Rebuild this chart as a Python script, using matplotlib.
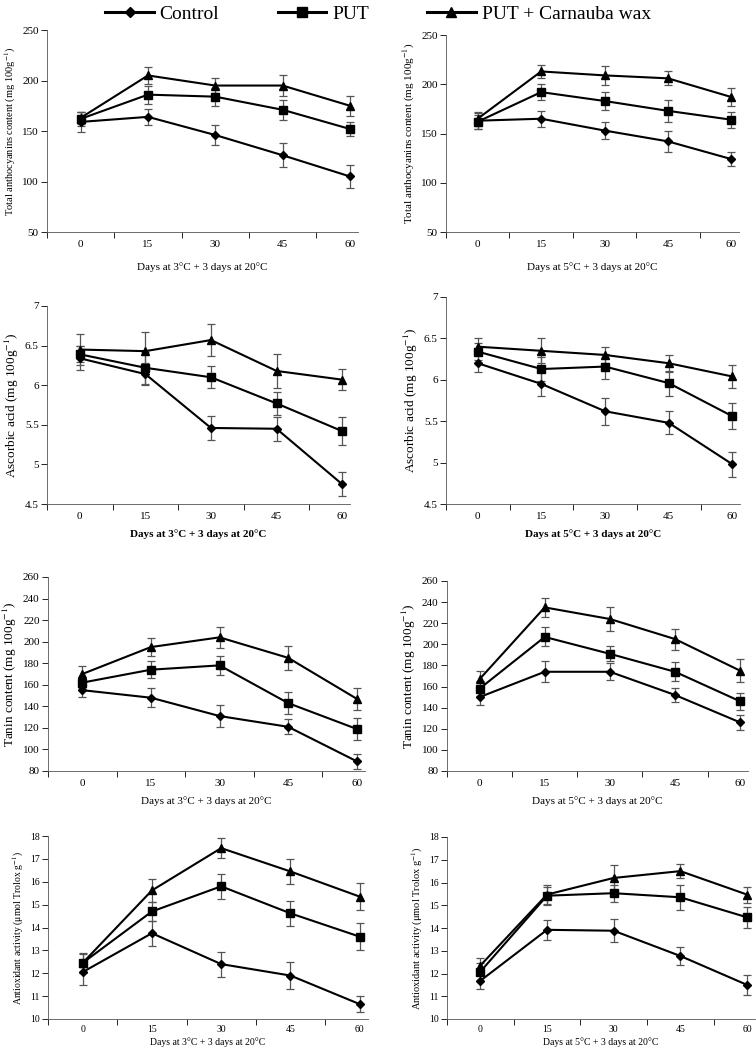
import numpy as np
import matplotlib
matplotlib.use("Agg")
import matplotlib.pyplot as plt
from matplotlib.ticker import FixedLocator, FuncFormatter

plt.rcParams['font.family'] = ['Liberation Serif', 'DejaVu Serif']
plt.rcParams['mathtext.fontset'] = 'stix'

days = ['0', '15', '30', '45', '60']
series_names = ['Control', 'PUT', 'PUT + Carnauba wax']

# total anthocyanins
anth_3 = [[159, 164, 146, 126, 105], [162, 186, 184, 171, 152], [163, 205, 195, 195, 175]]
anth_3_err = [[10, 8, 10, 12, 11], [7, 9, 9, 10, 7], [6, 8, 7, 10, 10]]
anth_5 = [[163, 165, 153, 142, 124], [162, 192, 183, 173, 164], [165, 213, 209, 206, 187]]
anth_5_err = [[8, 8, 9, 11, 7], [7, 8, 9, 11, 8], [7, 7, 10, 7, 9]]

# ascorbic acid
asc_3 = [[6.34, 6.14, 5.46, 5.45, 4.75], [6.39, 6.22, 6.10, 5.77, 5.42], [6.45, 6.43, 6.57, 6.18, 6.07]]
asc_3_err = [[0.15, 0.14, 0.15, 0.15, 0.15], [0.1, 0.2, 0.14, 0.14, 0.18], [0.2, 0.24, 0.2, 0.22, 0.13]]
asc_5 = [[6.20, 5.95, 5.62, 5.48, 4.98], [6.34, 6.13, 6.16, 5.96, 5.56], [6.40, 6.35, 6.30, 6.20, 6.04]]
asc_5_err = [[0.1, 0.15, 0.16, 0.14, 0.15], [0.1, 0.15, 0.15, 0.15, 0.16], [0.1, 0.15, 0.1, 0.1, 0.14]]

# tanin
tan_3 = [[155, 148, 131, 121, 89], [162, 174, 178, 143, 119], [170, 195, 204, 185, 147]]
tan_3_err = [[6, 9, 10, 7, 7], [5, 8, 9, 10, 10], [7, 8, 10, 11, 10]]
tan_5 = [[150, 174, 174, 152, 126], [158, 207, 191, 174, 146], [167, 235, 224, 205, 175]]
tan_5_err = [[7, 10, 8, 7, 7], [7, 9, 7, 9, 8], [8, 9, 11, 10, 11]]

# antioxidant activity
aox_3 = [[12.05, 13.75, 12.4, 11.9, 10.65], [12.45, 14.7, 15.8, 14.62, 13.6], [12.45, 15.62, 17.47, 16.45, 15.35]]
aox_3_err = [[0.55, 0.55, 0.55, 0.58, 0.35], [0.45, 0.42, 0.56, 0.55, 0.6], [0.4, 0.5, 0.45, 0.53, 0.6]]
aox_5 = [[11.68, 13.92, 13.88, 12.77, 11.5], [12.08, 15.42, 15.53, 15.35, 14.47], [12.35, 15.47, 16.2, 16.5, 15.47]]
aox_5_err = [[0.38, 0.45, 0.5, 0.4, 0.45], [0.4, 0.4, 0.38, 0.55, 0.45], [0.35, 0.4, 0.55, 0.3, 0.35]]

W, H = 756, 1050
fig = plt.figure(figsize=(W / 100, H / 100), dpi=100)

markers = ['D', 's', '^']
msizes = [4, 6, 5.5]


def px_axes(left, top, right, bottom):
    return fig.add_axes([left / W, 1 - bottom / H, (right - left) / W, (bottom - top) / H])


def fmt(v, pos):
    return ('%g' % v)


def panel(box, data, err, ylim, yticks, ylabel, xlabel, fs=8, xbold=False, ylfs=8,
          tpad=6, lpad=6):
    ax = px_axes(*box)
    x = np.arange(len(days))
    for i in range(3):
        ax.errorbar(x, data[i], yerr=err[i], fmt='none', ecolor='#555555',
                    elinewidth=0.9, capsize=3, capthick=0.9, zorder=2)
        ax.plot(x, data[i], color='black', lw=1.5, marker=markers[i],
                ms=msizes[i], zorder=3)
    ax.set_xlim(-0.5, 4.12)
    ax.set_ylim(*ylim)
    ax.set_xticks(x)
    ax.set_xticklabels(days, fontsize=fs)
    ax.xaxis.set_minor_locator(FixedLocator(np.arange(-0.5, 4.6, 1)))
    ax.tick_params(axis='x', which='major', length=0, pad=tpad)
    ax.tick_params(axis='x', which='minor', length=4, width=0.6, direction='out')
    ax.set_yticks(yticks)
    ax.yaxis.set_major_formatter(FuncFormatter(fmt))
    ax.tick_params(axis='y', length=4, width=0.6, labelsize=fs, pad=2)
    for s in ['top', 'right']:
        ax.spines[s].set_visible(False)
    for s in ['left', 'bottom']:
        ax.spines[s].set_linewidth(0.6)
        ax.spines[s].set_color('#555555')
    ax.set_ylabel(ylabel, fontsize=ylfs, labelpad=3)
    ax.set_xlabel(xlabel, fontsize=fs, labelpad=lpad,
                  fontweight='bold' if xbold else 'normal')
    return ax


lab3 = 'Days at 3°C + 3 days at 20°C'
lab5 = 'Days at 5°C + 3 days at 20°C'
anth_lab = 'Total anthocyanins content (mg 100g$^{-1}$)'
asc_lab = 'Ascorbic acid (mg 100g$^{-1}$)'
tan_lab = 'Tanin content (mg 100g$^{-1}$)'
aox_lab = 'Antioxidant activity (μmol Trolox g$^{-1}$)'

panel((47, 30, 358, 232), anth_3, anth_3_err, (50, 250), np.arange(50, 251, 50), anth_lab, lab3, ylfs=7.5, lpad=9)
panel((446, 35, 739, 232), anth_5, anth_5_err, (50, 250), np.arange(50, 251, 50), anth_lab, lab5, ylfs=8, lpad=9)
panel((47, 306, 350, 504), asc_3, asc_3_err, (4.5, 7), np.arange(4.5, 7.01, 0.5), asc_lab, lab3, xbold=True, ylfs=9.5)
panel((446, 297, 740, 504), asc_5, asc_5_err, (4.5, 7), np.arange(4.5, 7.01, 0.5), asc_lab, lab5, xbold=True, ylfs=9.5)
panel((48, 577, 365, 771), tan_3, tan_3_err, (80, 260), np.arange(80, 261, 20), tan_lab, lab3, ylfs=9.5)
panel((447, 581, 748, 771), tan_5, tan_5_err, (80, 260), np.arange(80, 261, 20), tan_lab, lab5, ylfs=9.5)
panel((48, 836, 368, 1019), aox_3, aox_3_err, (10, 18), np.arange(10, 19, 1), aox_lab, lab3,
      fs=7, ylfs=7, tpad=4, lpad=3)
panel((447, 837, 755, 1019), aox_5, aox_5_err, (10, 18), np.arange(10, 19, 1), aox_lab, lab5,
      fs=7, ylfs=7.5, tpad=4, lpad=3)

# legend across the top
handles = [plt.Line2D([], [], color='black', lw=2.2, marker=markers[i], ms=msizes[i] + 1)
           for i in range(3)]
fig.legend(handles, series_names, loc='upper center', bbox_to_anchor=(0.5, 1.012),
           ncol=3, frameon=False, fontsize=14, handlelength=2.5, columnspacing=3,
           handletextpad=0.3)

plt.savefig('out.png', dpi=100)
